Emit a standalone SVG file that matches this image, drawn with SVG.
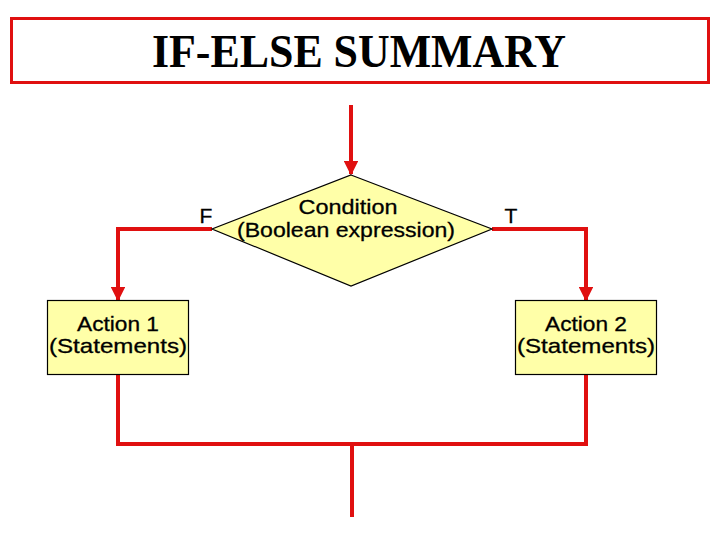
<svg xmlns="http://www.w3.org/2000/svg" width="720" height="540" viewBox="0 0 720 540">
<style>
.wire{fill:none;stroke:#e01010;stroke-width:4}
.node{fill:#ffffa8;stroke:#000;stroke-width:1.2}
.lbl{font-family:"Liberation Sans",Arial,sans-serif;font-size:21px;fill:#000;stroke:#000;stroke-width:0.3;text-anchor:middle}
</style>
<defs>
<marker id="ah" viewBox="0 0 10 10" refX="9" refY="5" markerWidth="4" markerHeight="3.6" orient="auto" markerUnits="strokeWidth">
<path d="M0,0 L10,5 L0,10 z" fill="#e01010"/>
</marker>
</defs>
<rect width="720" height="540" fill="#fff"/>
<g id="title">
<rect x="11.5" y="18.5" width="697" height="64" fill="none" stroke="#e01010" stroke-width="3"/>
<text x="359" y="67" text-anchor="middle" font-family="Liberation Serif,'Times New Roman',serif" font-weight="bold" font-size="46" textLength="414" lengthAdjust="spacingAndGlyphs">IF-ELSE SUMMARY</text>
</g>
<g id="connectors">
<path class="wire" d="M351,105 V174" marker-end="url(#ah)"/>
<path class="wire" d="M212,229 H118 V300" marker-end="url(#ah)"/>
<path class="wire" d="M492,229 H586 V300" marker-end="url(#ah)"/>
<path class="wire" d="M118,374 V444 H586 V374"/>
<path class="wire" d="M352,444 V517"/>
</g>
<g id="condition">
<polygon class="node" points="351,175 492,229 351,286 212,229"/>
<text class="lbl" x="348" y="214" textLength="99" lengthAdjust="spacingAndGlyphs">Condition</text>
<text class="lbl" x="346" y="237" textLength="218" lengthAdjust="spacingAndGlyphs">(Boolean expression)</text>
</g>
<g id="action1">
<rect class="node" x="47.5" y="300.5" width="141" height="74"/>
<text class="lbl" x="118" y="331" textLength="82" lengthAdjust="spacingAndGlyphs">Action 1</text>
<text class="lbl" x="118" y="353" textLength="138" lengthAdjust="spacingAndGlyphs">(Statements)</text>
</g>
<g id="action2">
<rect class="node" x="515.5" y="300.5" width="141" height="74"/>
<text class="lbl" x="586" y="331" textLength="82" lengthAdjust="spacingAndGlyphs">Action 2</text>
<text class="lbl" x="586" y="353" textLength="138" lengthAdjust="spacingAndGlyphs">(Statements)</text>
</g>
<g id="labels">
<text class="lbl" x="206" y="223">F</text>
<text class="lbl" x="511" y="223">T</text>
</g>
</svg>
